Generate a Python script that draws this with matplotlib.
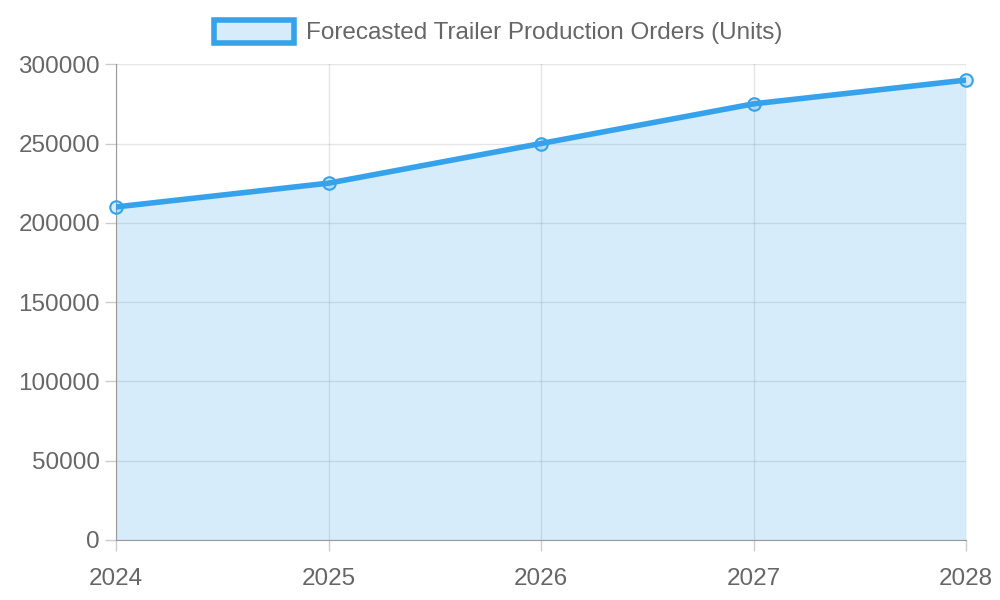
import matplotlib.pyplot as plt
from matplotlib.patches import Rectangle

years = ["2024", "2025", "2026", "2027", "2028"]
orders = [210000, 225000, 250000, 275000, 290000]
label = "Forecasted Trailer Production Orders (Units)"

plt.rcParams['font.family'] = ['Liberation Sans', 'DejaVu Sans']
line_color = "#36a2eb"
fill_rgba = (54 / 255, 162 / 255, 235 / 255, 0.2)
text_color = "#666666"

fig = plt.figure(figsize=(10, 6), dpi=100)
ax = fig.add_axes([0.116, 0.10, 0.85, 0.793])

x = range(len(years))
ax.fill_between(x, orders, 0, color=fill_rgba, lw=0, zorder=1)
ax.plot(x, orders, color=line_color, lw=4, zorder=3)
ax.plot(x, orders, 'o', ms=9, mfc=fill_rgba, mec=line_color, mew=1.5, zorder=4, clip_on=False)

ax.set_xlim(0, len(years) - 1)
ax.set_ylim(0, 300000)
ax.set_xticks(list(x))
ax.set_xticklabels(years)
ax.set_yticks(range(0, 300001, 50000))
ax.tick_params(colors="#cccccc", labelcolor=text_color, labelsize=17.5, length=8, width=1)
ax.tick_params(axis='x', pad=12)
ax.grid(True, color="#000000", alpha=0.1, lw=1, zorder=0)
for s in ['top', 'right']:
    ax.spines[s].set_visible(False)
for s in ['left', 'bottom']:
    ax.spines[s].set_color("#999999")
ax.set_axisbelow(True)

# legend drawn like the reference (box + text)
fig.patches.append(Rectangle((0.214, 0.928), 0.08, 0.038, transform=fig.transFigure,
                             facecolor=fill_rgba, edgecolor=line_color, lw=4))
fig.text(0.306, 0.945, label, fontsize=17.5, color=text_color, va='center', ha='left')

fig.savefig("out.png", dpi=100)
